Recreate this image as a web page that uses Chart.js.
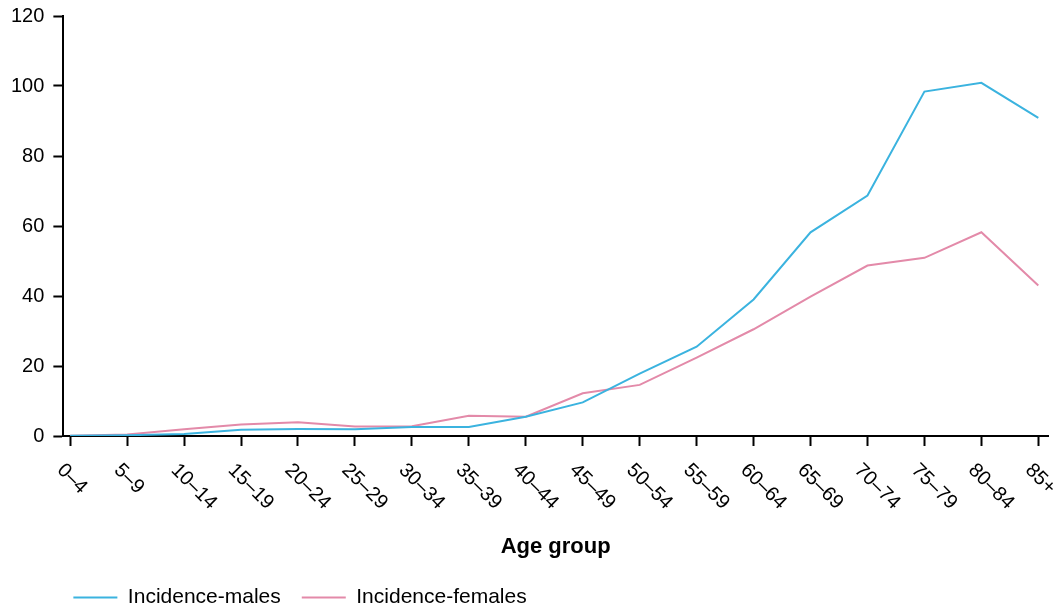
<!DOCTYPE html>
<html lang="en">
<head>
    <meta charset="UTF-8">
    <script src="https://cdn.jsdelivr.net/npm/chart.js"></script>
    <title>Incidence by age group</title>
    <style>
        body { margin: 0; background: #fff; }
        #chart { width: 1060px; height: 613px; }
    </style>
</head>
<body>
    <div id="chart">
        <canvas id="incidenceChart"></canvas>
    </div>
    <script>
        // age groups and rates
        const ageGroups = ['0–4', '5–9', '10–14', '15–19', '20–24', '25–29', '30–34', '35–39', '40–44',
            '45–49', '50–54', '55–59', '60–64', '65–69', '70–74', '75–79', '80–84', '85+']
        const males = [0.1, 0.2, 0.6, 1.8, 2.0, 1.9, 2.6, 2.6, 5.5, 9.6, 17.8, 25.5, 39.0, 58.2, 68.7, 98.4, 100.9, 90.9]
        const females = [0.1, 0.4, 1.9, 3.3, 3.9, 2.7, 2.8, 5.8, 5.5, 12.2, 14.6, 22.4, 30.5, 39.8, 48.7, 50.9, 58.2, 43.0]
        const yTicks = [0, 20, 40, 60, 80, 100, 120]

        const FONT = 'Liberation Sans, Arial, sans-serif'

        // x labels are rotated clockwise, which chart.js can't do itself
        const slantedLabels = {
            id: 'slantedLabels',
            afterDraw(chart) {
                const scale = chart.scales.x
                const ctx = chart.ctx
                ctx.save()
                ctx.font = '20px ' + FONT
                ctx.fillStyle = '#000'
                ctx.textAlign = 'left'
                ctx.textBaseline = 'middle'
                ageGroups.forEach((lab, i) => {
                    const px = scale.getPixelForValue(i)
                    ctx.save()
                    ctx.translate(px - 10, scale.top + 31)
                    ctx.rotate(Math.PI / 4)
                    ctx.fillText(lab, 0, 0)
                    ctx.restore()
                })
                ctx.restore()
            }
        }

        // legend starts under the first tick, a bit left of where chart.js puts it
        const legendShift = {
            id: 'legendShift',
            afterLayout(chart) {
                chart.legend.left -= 11
                chart.legend.right -= 11
            }
        }

        const ctx = document.getElementById('incidenceChart').getContext('2d')
        const incidenceChart = new Chart(ctx, {
            type: 'line',
            data: {
                datasets: [
                    {
                        label: 'Incidence-males',
                        data: males.map((v, i) => ({ x: i, y: v })),
                        borderColor: '#3bb3df',
                        backgroundColor: '#3bb3df',
                        borderWidth: 2,
                        pointRadius: 0,
                        tension: 0
                    },
                    {
                        label: 'Incidence-females',
                        data: females.map((v, i) => ({ x: i, y: v })),
                        borderColor: '#e38aa9',
                        backgroundColor: '#e38aa9',
                        borderWidth: 2,
                        pointRadius: 0,
                        tension: 0
                    }
                ]
            },
            options: {
                responsive: true,
                maintainAspectRatio: false,
                animation: false,
                devicePixelRatio: 1,
                layout: { padding: { top: 16, left: 2, right: 12, bottom: -5 } },
                plugins: {
                    tooltip: { enabled: false },
                    legend: {
                        position: 'bottom',
                        align: 'start',
                        fullSize: false,
                        labels: {
                            font: { family: FONT, size: 21 },
                            color: '#000',
                            usePointStyle: true,
                            pointStyle: 'line',
                            pointStyleWidth: 44,
                            padding: 21
                        }
                    }
                },
                scales: {
                    x: {
                        type: 'linear',
                        min: -0.12,
                        max: 17.17,
                        afterBuildTicks: scale => {
                            scale.ticks = ageGroups.map((l, i) => ({ value: i }))
                        },
                        afterFit: scale => { scale.height = 130 },
                        ticks: { display: false },
                        grid: {
                            drawOnChartArea: false,
                            drawTicks: true,
                            tickLength: 10,
                            tickWidth: 2,
                            tickColor: '#000'
                        },
                        border: { color: '#000', width: 2 },
                        title: {
                            display: true,
                            text: 'Age group',
                            color: '#000',
                            font: { family: FONT, size: 22, weight: 'bold' },
                            padding: { top: 0, bottom: 6 }
                        }
                    },
                    y: {
                        min: 0,
                        max: 120,
                        afterBuildTicks: scale => {
                            scale.ticks = yTicks.map(v => ({ value: v }))
                        },
                        afterFit: scale => { scale.paddingTop = 0 },
                        ticks: {
                            color: '#000',
                            font: { family: FONT, size: 20 },
                            padding: 9
                        },
                        grid: {
                            drawOnChartArea: false,
                            tickLength: 10,
                            tickWidth: 2,
                            tickColor: '#000'
                        },
                        border: { color: '#000', width: 2 }
                    }
                }
            },
            plugins: [slantedLabels, legendShift]
        })
    </script>
</body>
</html>
